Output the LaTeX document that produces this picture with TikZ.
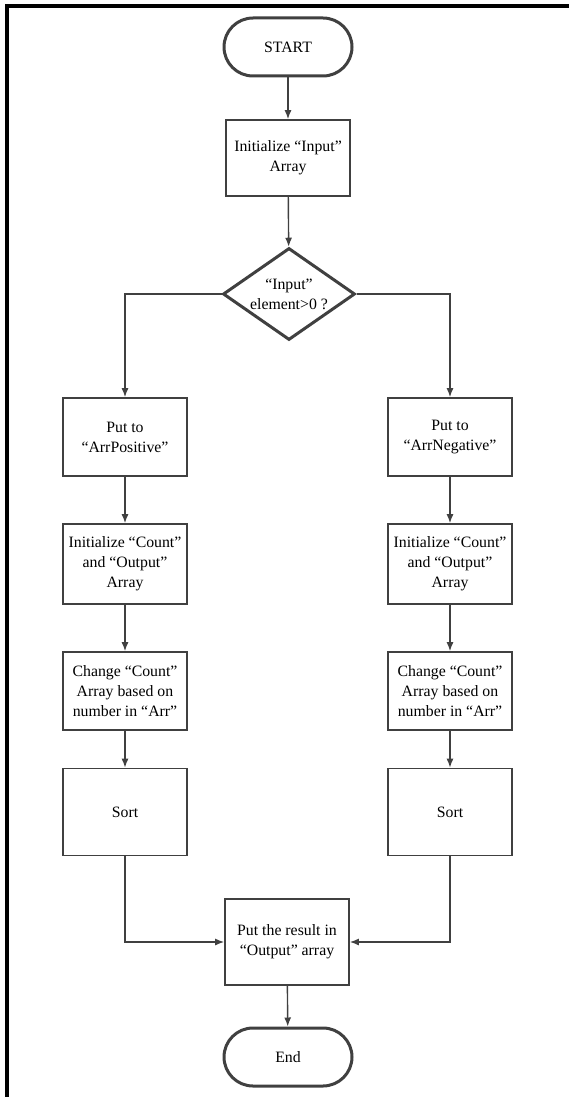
\documentclass[tikz,border=0pt]{standalone}
\usepackage{fontspec}
\setmainfont{Liberation Serif}
\usepackage{tikz}
\usetikzlibrary{shapes.geometric, arrows.meta}

\tikzset{
  proc/.style={draw=black!75, line width=1.6pt, fill=white, align=center,
    minimum width=124pt, inner sep=2pt},
  term/.style={draw=black!75, line width=3pt, rounded corners=29pt, fill=white,
    minimum width=128pt, minimum height=58pt},
  decide/.style={draw=black!75, line width=3pt, diamond, aspect=1.4, inner sep=0pt,
    align=center, minimum width=132pt, minimum height=92pt},
  flow/.style={draw=black!75, line width=1.4pt, -{Latex[length=9pt,width=7pt]}},
}

\begin{document}
\begin{tikzpicture}[x=1pt, y=-1pt, font=\fontsize{15.8}{20}\selectfont]
\useasboundingbox (0,0) rectangle (568,1097);
% frame
\draw[line width=3.5pt] (7,1105) |- (575,6);
\coordinate (s) at (288,47);
\coordinate (i) at (288,158);
\coordinate (d) at (289,294);
\coordinate (r) at (287,942);
\coordinate (e) at (288,1057);
\node[term] (start) at (s) {START};
\node[proc, minimum height=76pt] (init) at (i) {Initialize “Input”\\Array};
\node[decide] (test) at (d) {“Input”\\element>0 ?};
% left branch
\node[proc, minimum height=78pt] (posput) at (125,437) {Put to\\“ArrPositive”};
\node[proc, minimum height=80pt] (posinit) at (125,564) {Initialize “Count”\\and “Output”\\Array};
\node[proc, minimum height=78pt] (poscount) at (125,691) {Change “Count”\\Array based on\\number in “Arr”};
\node[proc, minimum height=87pt] (possort) at (125,812) {Sort};
% right branch
\node[proc, minimum height=78pt] (negput) at (450,437) {Put to\\“ArrNegative”};
\node[proc, minimum height=80pt] (neginit) at (450,564) {Initialize “Count”\\and “Output”\\Array};
\node[proc, minimum height=78pt] (negcount) at (450,691) {Change “Count”\\Array based on\\number in “Arr”};
\node[proc, minimum height=87pt] (negsort) at (450,812) {Sort};
\node[proc, minimum height=86pt] (result) at (r) {Put the result in\\“Output” array};
\node[term] (end) at (e) {End};
\draw[flow] (start) -- (init);
\draw[flow] (init) -- (test);
\draw[flow] (test.west) -| (posput.north);
\draw[flow] (test.east) -| (negput.north);
\draw[flow] (posput) -- (posinit);
\draw[flow] (posinit) -- (poscount);
\draw[flow] (poscount) -- (possort);
\draw[flow] (negput) -- (neginit);
\draw[flow] (neginit) -- (negcount);
\draw[flow] (negcount) -- (negsort);
\draw[flow] (possort.south) |- (result.west);
\draw[flow] (negsort.south) |- (result.east);
\draw[flow] (result) -- (end);
\end{tikzpicture}
\end{document}
